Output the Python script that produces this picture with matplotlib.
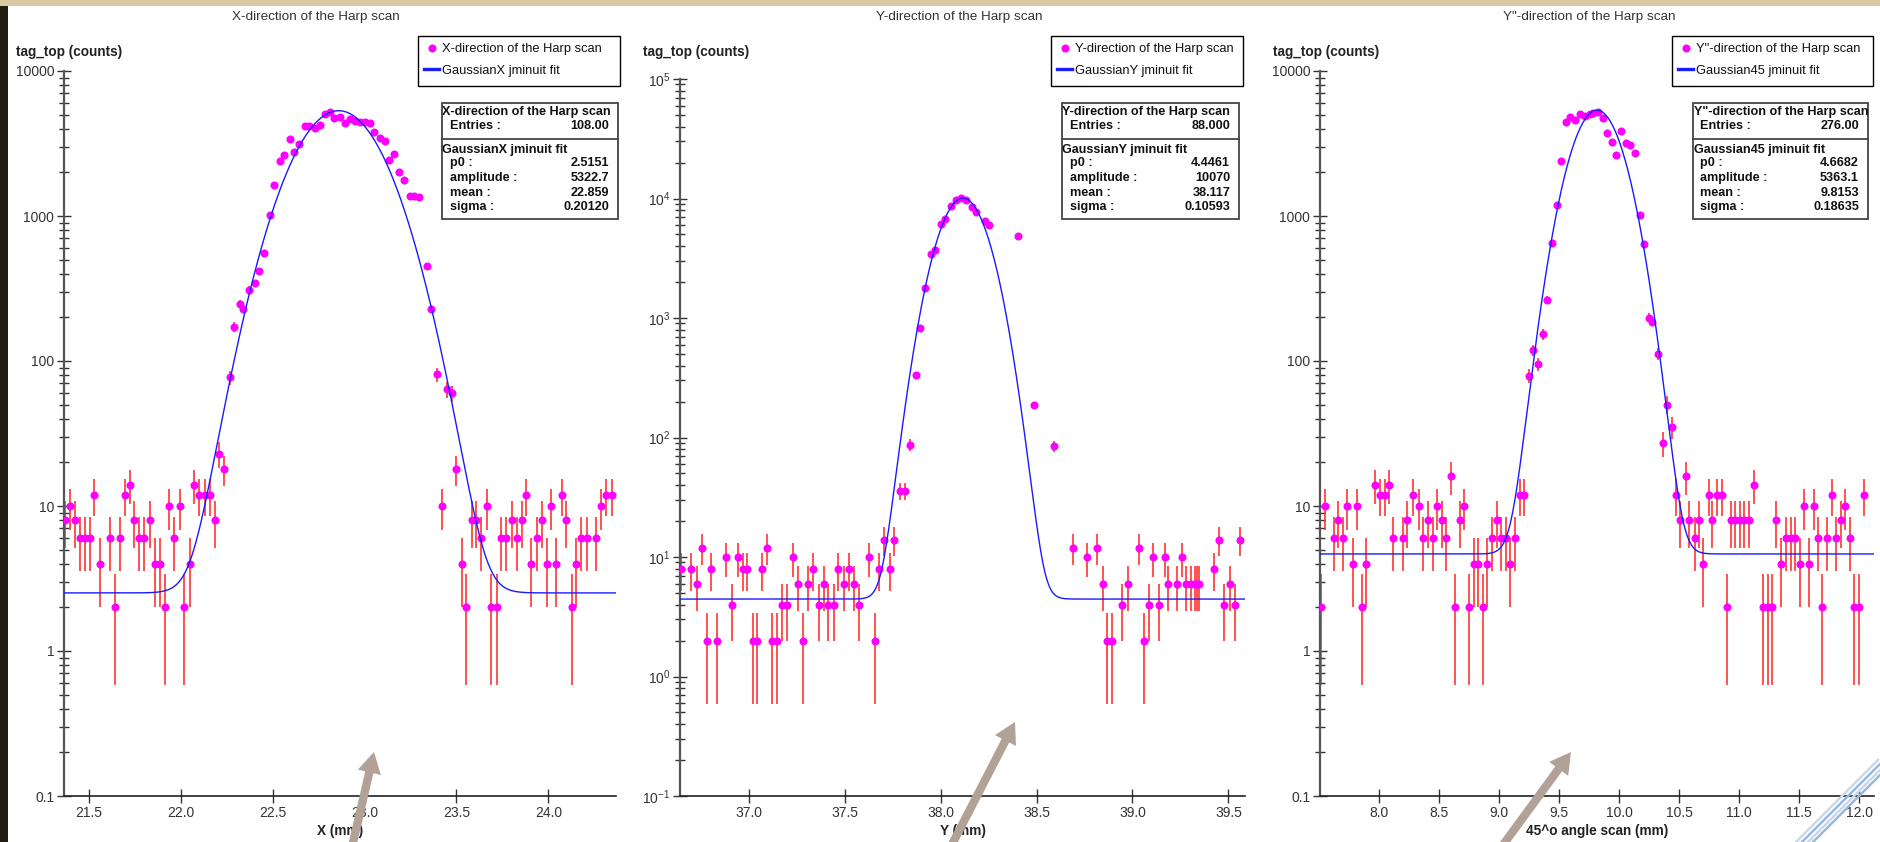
import numpy as np
import matplotlib.pyplot as plt
from matplotlib.patches import Rectangle, FancyArrowPatch
from matplotlib.lines import Line2D
from matplotlib.ticker import LogLocator, NullFormatter

plt.rcParams['font.family'] = ['Liberation Sans', 'DejaVu Sans']
plt.rcParams['mathtext.fontset'] = 'custom'
plt.rcParams['mathtext.rm'] = 'Liberation Sans'

# ---------------- data ----------------
# X scan
x_scan_x = [21.370, 21.395, 21.423, 21.450, 21.477, 21.505, 21.530, 21.559, 21.613, 21.643,
            21.670, 21.695, 21.724, 21.748, 21.775, 21.802, 21.831, 21.860, 21.887, 21.915,
            21.936, 21.965, 21.996, 22.020, 22.049, 22.074, 22.101, 22.130, 22.157, 22.185,
            22.210, 22.237,
            22.266, 22.290, 22.321, 22.340, 22.373, 22.402, 22.428, 22.455, 22.486, 22.509,
            22.538, 22.564, 22.593, 22.616, 22.645, 22.674, 22.700, 22.729, 22.756, 22.783,
            22.810, 22.836, 22.865, 22.892, 22.919, 22.946, 22.974, 23.001, 23.028, 23.053,
            23.082, 23.110, 23.135, 23.162, 23.189, 23.217, 23.248, 23.271, 23.298, 23.341,
            23.364, 23.393, 23.419, 23.446, 23.477,
            23.500, 23.529, 23.554, 23.582, 23.607, 23.636, 23.665, 23.690, 23.718, 23.745,
            23.772, 23.801, 23.827, 23.854, 23.879, 23.908, 23.937, 23.963, 23.990, 24.015,
            24.044, 24.073, 24.098, 24.126, 24.151, 24.180, 24.209, 24.261, 24.287, 24.316,
            24.345]
x_scan_counts = [8, 10, 8, 6, 6, 6, 12, 4, 6, 2, 6, 12, 14, 8, 6, 6, 8, 4, 4, 2,
                 10, 6, 10, 2, 4, 14, 12, 12, 12, 8, 23, 18,
                 77, 172, 247, 230, 309, 344, 416, 553, 1011, 1644,
                 2383, 2648, 3398, 2762, 3139, 4179, 4179, 4068, 4249, 5026,
                 5190, 4743, 4838, 4400, 4644, 4520, 4475, 4430, 4400, 3776,
                 3450, 3275, 2434, 2659, 2011, 1770, 1373, 1373, 1359, 454,
                 230, 81, 10, 64, 60,
                 18, 4, 2, 8, 8, 6, 10, 2, 2, 6, 6, 8, 6, 8, 12, 4, 6, 8, 4, 10,
                 4, 12, 8, 2, 4, 6, 6, 6, 10, 12, 12]

# Y scan
y_scan_x = [36.650, 36.702, 36.731, 36.756, 36.782, 36.805, 36.834, 36.885, 36.914, 36.943,
            36.970, 36.994, 37.021, 37.046, 37.071, 37.097, 37.124, 37.149, 37.175, 37.202,
            37.229, 37.258, 37.283, 37.311, 37.334, 37.365, 37.392, 37.414, 37.443, 37.468,
            37.497, 37.524, 37.548, 37.577, 37.628, 37.658, 37.680, 37.707, 37.738, 37.760,
            37.789, 37.816,
            37.841, 37.870, 37.892, 37.921, 37.950, 37.973, 38.003, 38.024, 38.055, 38.080,
            38.109, 38.135, 38.164, 38.185, 38.230, 38.250, 38.405, 38.489, 38.590,
            38.689, 38.765, 38.817, 38.844, 38.869, 38.895, 38.947, 38.977, 39.035, 39.058,
            39.085, 39.109, 39.138, 39.167, 39.187, 39.231, 39.256, 39.280, 39.303, 39.324,
            39.336, 39.348, 39.424, 39.453, 39.478, 39.507, 39.534, 39.558]
y_scan_counts = [8, 8, 6, 12, 2, 8, 2, 10, 4, 10, 8, 8, 2, 2, 8, 12, 2, 2, 4, 4,
                 10, 6, 2, 6, 8, 4, 6, 4, 4, 8, 6, 8, 6, 4, 10, 2, 8, 14, 8, 14,
                 36, 36,
                 87, 334, 817, 1785, 3418, 3741, 6092, 6748, 8575, 9798,
                 10020, 9680, 8413, 7730, 6460, 5980, 4840, 186, 85,
                 12, 10, 12, 6, 2, 2, 4, 6, 12, 2, 4, 10, 4, 10, 6, 6, 10, 6, 6, 6,
                 6, 6, 8, 14, 4, 6, 4, 14]

# 45 degree scan
d45_scan_x = [7.514, 7.548, 7.624, 7.660, 7.702, 7.735, 7.778, 7.818, 7.854, 7.893,
              7.969, 8.005, 8.048, 8.084, 8.117, 8.202, 8.235, 8.278, 8.335, 8.369,
              8.408, 8.445, 8.484, 8.520, 8.560, 8.602, 8.635, 8.675, 8.711, 8.750,
              8.790, 8.823, 8.865, 8.899, 8.939, 8.980, 9.017, 9.060, 9.090, 9.135,
              9.175, 9.211,
              9.247, 9.284, 9.323, 9.365, 9.395, 9.438, 9.480, 9.514, 9.554, 9.593,
              9.632, 9.671, 9.714, 9.756, 9.784, 9.823, 9.865, 9.901, 9.938, 9.975,
              10.014, 10.056, 10.093, 10.134, 10.175, 10.210, 10.247, 10.277, 10.323, 10.362,
              10.399, 10.438,
              10.471, 10.507, 10.556, 10.586, 10.629, 10.665, 10.701, 10.747, 10.777, 10.816,
              10.855, 10.895, 10.931, 10.968, 11.007, 11.044, 11.080, 11.120, 11.201, 11.240,
              11.277, 11.310, 11.350, 11.392, 11.429, 11.468, 11.504, 11.544, 11.583, 11.620,
              11.659, 11.694, 11.734, 11.777, 11.810, 11.852, 11.885, 11.928, 11.961, 11.998,
              12.040]
d45_scan_counts = [2, 10, 6, 8, 6, 10, 4, 10, 2, 4, 14, 12, 12, 14, 6, 6, 8, 12, 10, 6,
                   8, 6, 10, 8, 6, 16, 2, 8, 10, 2, 4, 4, 2, 4, 6, 8, 6, 6, 4, 6,
                   12, 12,
                   79, 119, 95, 153, 265, 648, 1191, 2383, 4477, 4817,
                   4593, 5048, 4922, 5048, 5107, 5212, 4743, 3733, 3224, 2637,
                   3882, 3205, 3077, 2705, 1016, 638, 199, 187, 112, 27,
                   50, 35,
                   12, 8, 16, 8, 6, 8, 4, 12, 8, 12, 12, 2, 8, 8, 8, 8, 8, 14, 2, 2,
                   2, 8, 4, 6, 6, 6, 4, 10, 4, 10, 6, 2, 6, 12, 6, 8, 10, 6, 2, 2,
                   12]

# fit parameters (p0, amplitude, mean, sigma) and entries, as printed in the stat boxes
fit_x = [2.5151, 5322.7, 22.859, 0.20120]
fit_y = [4.4461, 10070, 38.117, 0.10593]
fit_45 = [4.6682, 5363.1, 9.8153, 0.18635]
entries = ['108.00', '88.000', '276.00']

titles = ['X-direction of the Harp scan', 'Y-direction of the Harp scan', 'Y"-direction of the Harp scan']
fit_names = ['GaussianX jminuit fit', 'GaussianY jminuit fit', 'Gaussian45 jminuit fit']
xlabels = ['X (mm)', 'Y (mm)', '45^o angle scan (mm)']
fit_text = ['2.5151', '5322.7', '22.859', '0.20120'], ['4.4461', '10070', '38.117', '0.10593'], \
           ['4.6682', '5363.1', '9.8153', '0.18635']

xticks_x = [21.5, 22.0, 22.5, 23.0, 23.5, 24.0]
xticks_y = [37.0, 37.5, 38.0, 38.5, 39.0, 39.5]
xticks_45 = [8.0, 8.5, 9.0, 9.5, 10.0, 10.5, 11.0, 11.5, 12.0]
yticks_dec = [0.1, 1, 10, 100, 1000, 10000]
yticklabels_dec = ['0.1', '1', '10', '100', '1000', '10000']
yticks_pow = [0.1, 1, 10, 100, 1000, 10000, 100000]
yticklabels_pow = ['$10^{-1}$', '$10^{0}$', '$10^{1}$', '$10^{2}$', '$10^{3}$', '$10^{4}$', '$10^{5}$']

# ---------------- layout (pixels of the 1880x842 screenshot) ----------------
W, H = 1880, 842
fig = plt.figure(figsize=(W / 100, H / 100), dpi=100)
fig.patch.set_facecolor('white')


def fx(x):
    return x / W


def fy(y):
    return 1 - y / H


panels = [
    dict(x=x_scan_x, y=x_scan_counts, fit=fit_x, rect=(64, 71, 616, 796), xlim=(21.365, 24.368),
         ylim=(0.1, 10000), xt=xticks_x, yt=yticks_dec, ytl=yticklabels_dec,
         title_cx=316, ylab_x=16, leg=(418, 36, 620, 86), stat=(442, 103, 618, 219)),
    dict(x=y_scan_x, y=y_scan_counts, fit=fit_y, rect=(680, 79, 1245, 796), xlim=(36.643, 39.586),
         ylim=(0.1, 100000), xt=xticks_y, yt=yticks_pow, ytl=yticklabels_pow,
         title_cx=959, ylab_x=643, leg=(1051, 36, 1243, 86), stat=(1062, 103, 1239, 219)),
    dict(x=d45_scan_x, y=d45_scan_counts, fit=fit_45, rect=(1320, 71, 1874, 796), xlim=(7.507, 12.124),
         ylim=(0.1, 10000), xt=xticks_45, yt=yticks_dec, ytl=yticklabels_dec,
         title_cx=1589, ylab_x=1273, leg=(1672, 36, 1873, 86), stat=(1693, 103, 1868, 219)),
]

text_col = '#333333'

for i, p in enumerate(panels):
    l, t, r, b = p['rect']
    ax = fig.add_axes([fx(l), fy(b), (r - l) / W, (b - t) / H])
    xs = np.array(p['x'])
    ys = np.array(p['y'], dtype=float)
    ax.errorbar(xs, ys, yerr=np.sqrt(ys), fmt='none', ecolor='#ff2222', elinewidth=1.1, zorder=2)
    ax.plot(xs, ys, 'o', color='#ff00ff', ms=5.8, mew=0, zorder=3)
    p0, amp, mu, sig = p['fit']
    xx = np.linspace(p['xlim'][0], p['xlim'][1], 800)
    ax.plot(xx, p0 + amp * np.exp(-0.5 * ((xx - mu) / sig) ** 2), color='#1a1aff', lw=1.0, zorder=4)

    ax.set_yscale('log')
    ax.set_xlim(*p['xlim'])
    ax.set_ylim(*p['ylim'])
    ax.set_yticks(p['yt'])
    ax.set_yticklabels(p['ytl'])
    ax.yaxis.set_minor_locator(LogLocator(base=10, subs=range(2, 10), numticks=20))
    ax.yaxis.set_minor_formatter(NullFormatter())
    ax.set_xticks(p['xt'])
    ax.set_xticklabels(['%.1f' % v for v in p['xt']])
    ax.tick_params(which='major', direction='inout', length=10, width=1, color='#333333',
                   labelsize=10, labelcolor=text_col, pad=2)
    ax.tick_params(which='minor', direction='inout', length=7, width=1, color='#333333')
    for s in ['top', 'right']:
        ax.spines[s].set_visible(False)
    ax.spines['left'].set_color('#555555')
    ax.spines['left'].set_linewidth(1.6)
    ax.spines['bottom'].set_color('#222222')
    ax.spines['bottom'].set_linewidth(1.2)

    # texts around the axes
    fig.text(fx(p['title_cx']), fy(17), titles[i], ha='center', va='center', fontsize=9.7, color=text_col)
    fig.text(fx(p['ylab_x']), fy(52), 'tag_top (counts)', ha='left', va='center', fontsize=9.8,
             fontweight='bold', color='#222222')
    fig.text(fx((l + r) / 2), fy(831), xlabels[i], ha='center', va='center', fontsize=9.8,
             fontweight='bold', color='#222222')

    # legend box
    ll, lt, lr, lb = p['leg']
    fig.add_artist(Rectangle((fx(ll), fy(lb)), (lr - ll) / W, (lb - lt) / H, transform=fig.transFigure,
                             fc='white', ec='black', lw=1, zorder=10))
    fig.add_artist(Line2D([fx(ll + 14)], [fy(lt + 12.3)], marker='o', ms=5.8, mew=0, color='#ff00ff',
                          ls='none', transform=fig.transFigure, zorder=11))
    fig.add_artist(Line2D([fx(ll + 6), fx(ll + 20.5)], [fy(lt + 33.3)] * 2, color='#1a1aff', lw=2.4,
                          transform=fig.transFigure, zorder=11))
    fig.text(fx(ll + 24), fy(lt + 13.3), titles[i], ha='left', va='center', fontsize=9.3,
             color='#111111', zorder=12)
    fig.text(fx(ll + 24), fy(lt + 34.7), fit_names[i], ha='left', va='center', fontsize=9.3,
             color='#111111', zorder=12)

    # statistics box
    sl, st, sr, sb = p['stat']
    fig.add_artist(Rectangle((fx(sl), fy(sb)), (sr - sl) / W, (sb - st) / H, transform=fig.transFigure,
                             fc='white', ec='#444444', lw=1.3, zorder=10))
    fig.add_artist(Line2D([fx(sl), fx(sr)], [fy(st + 36.3)] * 2, color='#444444', lw=1.3,
                          transform=fig.transFigure, zorder=11))
    kw = dict(va='center', fontsize=9.1, fontweight='bold', color='#111111', zorder=12)
    fig.text(fx(sl + 0.5), fy(st + 8.7), titles[i], ha='left', **kw)
    fig.text(fx(sl + 7.5), fy(st + 23), 'Entries :', ha='left', **kw)
    fig.text(fx(sr - 9), fy(st + 23), entries[i], ha='right', **kw)
    fig.text(fx(sl + 0.5), fy(st + 47), fit_names[i], ha='left', **kw)
    for k, name in enumerate(['p0 :', 'amplitude :', 'mean :', 'sigma :']):
        yy = st + 60.3 + k * 14.7
        fig.text(fx(sl + 7.5), fy(yy), name, ha='left', **kw)
        fig.text(fx(sr - 9), fy(yy), fit_text[i][k], ha='right', **kw)

# screenshot frame: dark left strip and beige top strip
fig.add_artist(Rectangle((0, 0), fx(8), 1, transform=fig.transFigure, fc='#221c12', ec='none', zorder=30))
fig.add_artist(Rectangle((0, fy(6)), 1, 6 / H, transform=fig.transFigure, fc='#dcc9a3', ec='none', zorder=31))

# grey pointer arrows overlaid on the screenshot
for (x0, y0), (x1, y1) in [((349, 860), (374, 752)), ((944, 860), (1015, 722)), ((1492, 860), (1571, 752))]:
    fig.add_artist(FancyArrowPatch((fx(x0), fy(y0)), (fx(x1), fy(y1)), transform=fig.transFigure,
                                   arrowstyle='simple,tail_width=0.6,head_width=1.7,head_length=1.5',
                                   mutation_scale=10, color='#b2a196', lw=0, shrinkA=0, shrinkB=0,
                                   zorder=25))

# folded-corner decoration bottom right: a narrow band of light blue stripes
for off, col in [(-6, '#c9d8ea'), (0, '#9db7d9'), (6, '#c9d8ea'), (11, '#9db7d9')]:
    fig.add_artist(Line2D([fx(1884 + off), fx(1798 + off)], [fy(760), fy(846)], color=col,
                          lw=1.8, transform=fig.transFigure, zorder=27))

fig.savefig('out.png', dpi=100)
